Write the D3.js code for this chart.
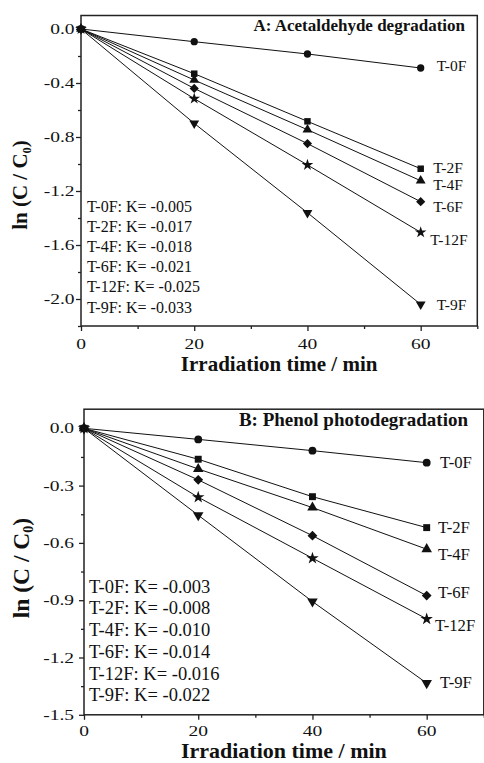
<!DOCTYPE html>
<html>
<head>
<meta charset="utf-8">
<script src="https://cdn.jsdelivr.net/npm/d3@7"></script>
<style>
  html, body { margin: 0; padding: 0; background: #fff; }
  svg { display: block; }
  text { font-family: "Liberation Serif", "Times New Roman", Times, serif; fill: #111; }
</style>
</head>
<body>
<div id="chart"></div>
<script>
// kinetics plots, ln(C/C0) vs irradiation time

var times = [0, 20, 40, 60];
var seriesNames = ["T-0F", "T-2F", "T-4F", "T-6F", "T-12F", "T-9F"];

// A: acetaldehyde
var acetT0F  = [0, -0.094, -0.185, -0.289];
var acetT2F  = [0, -0.331, -0.684, -1.035];
var acetT4F  = [0, -0.378, -0.746, -1.124];
var acetT6F  = [0, -0.440, -0.849, -1.279];
var acetT12F = [0, -0.516, -1.007, -1.506];
var acetT9F  = [0, -0.699, -1.361, -2.040];
var acetRates = ["-0.005", "-0.017", "-0.018", "-0.021", "-0.025", "-0.033"];

// B: phenol
var phenT0F  = [0, -0.058, -0.117, -0.180];
var phenT2F  = [0, -0.162, -0.358, -0.520];
var phenT4F  = [0, -0.213, -0.415, -0.633];
var phenT6F  = [0, -0.270, -0.562, -0.876];
var phenT12F = [0, -0.361, -0.680, -0.998];
var phenT9F  = [0, -0.455, -0.907, -1.334];
var phenRates = ["-0.003", "-0.008", "-0.010", "-0.014", "-0.016", "-0.022"];

var xTicks = [0, 20, 40, 60];
var xMinor = [10, 30, 50, 70];
var yTicksA = [0, -0.4, -0.8, -1.2, -1.6, -2.0];
var yMinorA = [-0.2, -0.6, -1.0, -1.4, -1.8, -2.2];
var yTicksB = [0, -0.3, -0.6, -0.9, -1.2, -1.5];
var yMinorB = [-0.15, -0.45, -0.75, -1.05, -1.35];

var symbols = [
  { type: d3.symbolCircle, rot: 0 },
  { type: d3.symbolSquare, rot: 0 },
  { type: d3.symbolTriangle, rot: 0 },
  { type: d3.symbolSquare, rot: 45 },
  { type: d3.symbolStar, rot: 0 },
  { type: d3.symbolTriangle, rot: 180 }
];

var svg = d3.select("#chart").append("svg")
  .attr("width", 484)
  .attr("height", 763);

function drawPanel(p) {
  var x = d3.scaleLinear().domain([0, 70]).range(p.xRange);
  var y = d3.scaleLinear().domain([0.1, p.yMin]).range(p.yRange);
  var g = svg.append("g");
  var left = p.xRange[0], bottom = p.yRange[1];

  // ticks (outward)
  g.append("g").attr("transform", "translate(" + left + ",0)")
    .call(d3.axisLeft(y).tickValues(p.yTicks).tickSize(5).tickFormat(""))
    .call(a => a.select(".domain").remove());
  g.append("g").attr("transform", "translate(" + left + ",0)")
    .call(d3.axisLeft(y).tickValues(p.yMinor).tickSize(3).tickFormat(""))
    .call(a => a.select(".domain").remove());
  g.append("g").attr("transform", "translate(0," + bottom + ")")
    .call(d3.axisBottom(x).tickValues(xTicks).tickSize(5).tickFormat(""))
    .call(a => a.select(".domain").remove());
  g.append("g").attr("transform", "translate(0," + bottom + ")")
    .call(d3.axisBottom(x).tickValues(xMinor).tickSize(3).tickFormat(""))
    .call(a => a.select(".domain").remove());
  g.selectAll(".tick line").attr("stroke", "#222").attr("stroke-width", 1.3);

  // tick labels, stretched like the original
  g.selectAll(".ylab").data(p.yTicks).enter().append("text")
    .attr("transform", d => "translate(" + (left - p.yLabGap) + "," + (y(d) + 5) + ") scale(1.3,1)")
    .attr("text-anchor", "end")
    .attr("font-size", "15px")
    .text(d => d.toFixed(1));
  g.selectAll(".xlab").data(xTicks).enter().append("text")
    .attr("transform", d => "translate(" + x(d) + "," + p.xLabY + ") scale(1.3,1)")
    .attr("text-anchor", "middle")
    .attr("font-size", "15px")
    .text(d => d);

  // frame
  g.append("rect")
    .attr("x", left).attr("y", p.yRange[0])
    .attr("width", p.xRange[1] - left).attr("height", bottom - p.yRange[0])
    .attr("fill", "none").attr("stroke", "#222").attr("stroke-width", 1.5);

  // series
  var line = d3.line().x((d, i) => x(times[i])).y(d => y(d));
  p.series.forEach(function (vals, s) {
    g.append("path").datum(vals)
      .attr("d", line)
      .attr("fill", "none").attr("stroke", "#111").attr("stroke-width", 1);
    var sym = d3.symbol().type(symbols[s].type).size(p.symSize);
    g.selectAll(null).data(vals).enter().append("path")
      .attr("d", sym)
      .attr("transform", (d, i) => "translate(" + x(times[i]) + "," + y(d) + ") rotate(" + symbols[s].rot + ")")
      .attr("fill", "#111");
    var last = vals[vals.length - 1];
    g.append("text")
      .attr("x", x(60) + p.nudge[s][0])
      .attr("y", y(last) + p.nudge[s][1])
      .attr("font-size", p.nameSize)
      .text(seriesNames[s]);
  });

  // rate constants
  p.rates.forEach(function (r, s) {
    g.append("text")
      .attr("x", p.rateX)
      .attr("y", p.rateY + s * p.rateStep)
      .attr("font-size", p.rateSize)
      .text(seriesNames[s] + ": K= " + r);
  });

  // panel title
  g.append("text")
    .attr("x", p.titleX).attr("y", p.titleY)
    .attr("text-anchor", "end")
    .attr("font-weight", "bold")
    .attr("font-size", p.titleSize)
    .text(p.title);

  // axis titles
  g.append("text")
    .attr("x", (left + p.xRange[1]) / 2).attr("y", p.xTitleY)
    .attr("text-anchor", "middle")
    .attr("font-weight", "bold")
    .attr("font-size", p.xTitleSize)
    .text("Irradiation time / min");

  var yt = g.append("text")
    .attr("transform", "translate(" + p.yTitleX + "," + p.yTitleY + ") rotate(-90)")
    .attr("text-anchor", "middle")
    .attr("font-weight", "bold")
    .attr("font-size", p.axisSize);
  yt.append("tspan").text("ln (C / C");
  yt.append("tspan").attr("font-size", "0.6em").attr("dy", "0.3em").text("0");
  yt.append("tspan").attr("dy", "-0.18em").text(")");
}

drawPanel({
  xRange: [81, 477.3], yRange: [15.5, 326], yMin: -2.2,
  yTicks: yTicksA, yMinor: yMinorA, yLabGap: 6.5, xLabY: 349,
  series: [acetT0F, acetT2F, acetT4F, acetT6F, acetT12F, acetT9F],
  rates: acetRates, rateX: 87, rateY: 212, rateStep: 20.1, rateSize: "16px",
  nudge: [[16, 3], [12.5, 4.3], [12.5, 8.8], [12.5, 10.8], [9.5, 12.2], [16, 5.2]],
  nameSize: "15.5px", symSize: 42,
  title: "A: Acetaldehyde degradation", titleX: 465, titleY: 30.7, titleSize: "17px",
  xTitleY: 371, xTitleSize: "21px", axisSize: "21px", yTitleX: 27, yTitleY: 185
});

drawPanel({
  xRange: [84, 483.8], yRange: [409.2, 714.8], yMin: -1.5,
  yTicks: yTicksB, yMinor: yMinorB, yLabGap: 10, xLabY: 735.5,
  series: [phenT0F, phenT2F, phenT4F, phenT6F, phenT12F, phenT9F],
  rates: phenRates, rateX: 89, rateY: 592.7, rateStep: 21.7, rateSize: "18.5px",
  nudge: [[13.3, 5.3], [11.3, 4.9], [11.3, 10.8], [11.3, 2.4], [8.3, 12], [13.3, 5.4]],
  nameSize: "16.7px", symSize: 48,
  title: "B: Phenol photodegradation", titleX: 468, titleY: 425.7, titleSize: "19px",
  xTitleY: 758, xTitleSize: "22px", axisSize: "23.5px", yTitleX: 28.5, yTitleY: 568
});
</script>
</body>
</html>
